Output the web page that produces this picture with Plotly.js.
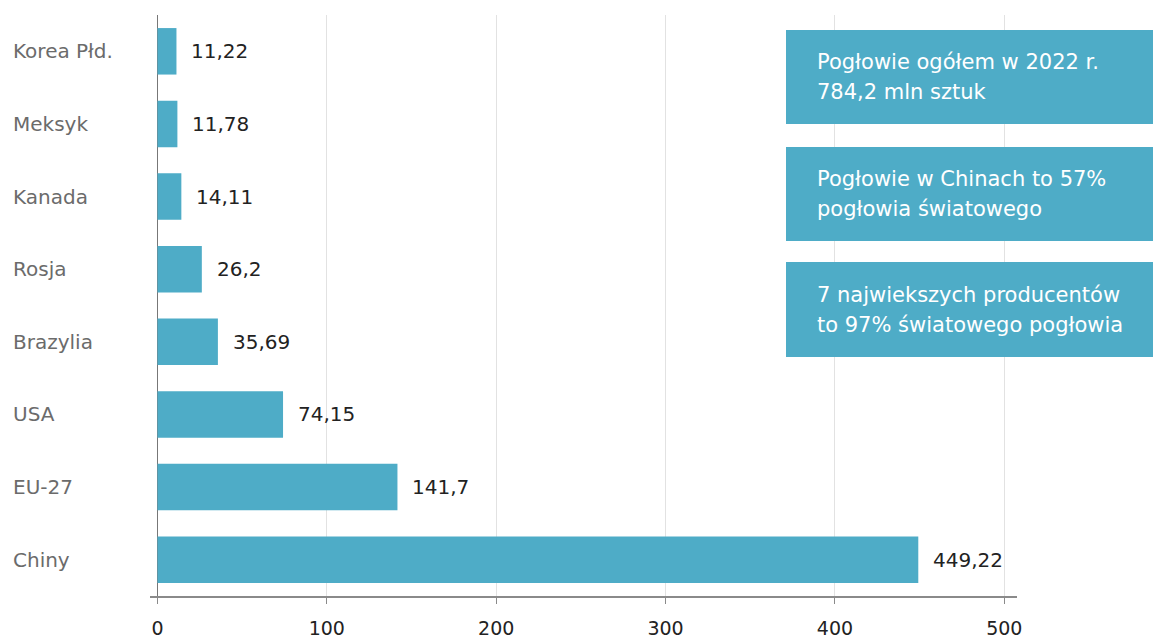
<!DOCTYPE html>
<html>
<head>
<meta charset="utf-8">
<script src="https://cdn.plot.ly/plotly-3.0.1.min.js"></script>
<style>html,body{margin:0;padding:0;background:#fff;}#chart{width:1153px;height:641px;}</style>
</head>
<body>
<div id="chart"></div>
<script>
const categories = ["Chiny", "EU-27", "USA", "Brazylia", "Rosja", "Kanada", "Meksyk", "Korea Płd."];
const values = [449.22, 141.7, 74.15, 35.69, 26.2, 14.11, 11.78, 11.22];
const xTicks = [0, 100, 200, 300, 400, 500];
const boxLines = [
  ["Pogłowie ogółem w 2022 r.", "784,2 mln sztuk"],
  ["Pogłowie w Chinach to 57%", "pogłowia światowego"],
  ["7 najwiekszych producentów", "to 97% światowego pogłowia"]
];

const FONT = "'DejaVu Sans', 'Open Sans', sans-serif";
const TEAL = "#4EACC7";
const W = 1153, H = 641;
const L = 150, R = 136, T = 15, B = 45;
const pw = W - L - R, ph = H - T - B;
const px = x => (x - L) / pw;
const py = y => (H - B - y) / ph;

const fmt = v => String(v).replace('.', ',');

const annotations = [];
categories.forEach((c, i) => {
  annotations.push({
    xref: 'paper', yref: 'y', x: px(11), y: c, xanchor: 'left', yanchor: 'middle',
    text: c, showarrow: false, font: {family: FONT, size: 20, color: '#6b6b6b'}
  });
  annotations.push({
    xref: 'x', yref: 'y', x: values[i], y: c, xanchor: 'left', yanchor: 'middle', xshift: 13,
    text: fmt(values[i]), showarrow: false, font: {family: FONT, size: 20, color: '#222'}
  });
});

const boxes = [[30, 124], [147, 241], [262, 357]];
const shapes = [];
boxes.forEach((b, i) => {
  shapes.push({type: 'rect', xref: 'paper', yref: 'paper', x0: px(786), x1: px(1153), y0: py(b[1]), y1: py(b[0]),
    fillcolor: TEAL, line: {width: 0}, layer: 'above'});
  const mid = (b[0] + b[1]) / 2;
  boxLines[i].forEach((ln, j) => {
    annotations.push({xref: 'paper', yref: 'paper', x: px(815), y: py(mid + (j - 0.5) * 30), xanchor: 'left', yanchor: 'middle',
      align: 'left', text: ln, showarrow: false, font: {family: FONT, size: 21, color: '#fff'}});
  });
});

Plotly.newPlot('chart', [{
  type: 'bar', orientation: 'h', y: categories, x: values,
  marker: {color: TEAL}, width: 0.64, hoverinfo: 'none'
}], {
  width: W, height: H,
  margin: {l: L, r: R, t: T, b: B},
  paper_bgcolor: '#fff', plot_bgcolor: '#fff',
  showlegend: false,
  xaxis: {
    range: [-4.4, 507.5], tickvals: xTicks, ticktext: xTicks.map(String),
    showgrid: true, gridcolor: '#e2e2e2', gridwidth: 1,
    zeroline: true, zerolinecolor: '#777', zerolinewidth: 1.5,
    showline: true, linecolor: '#8a8a8a', linewidth: 2,
    ticks: 'outside', ticklen: 6, tickcolor: '#8a8a8a', tickwidth: 1,
    ticklabelstandoff: 8,
    tickfont: {family: FONT, size: 19, color: '#222'}, fixedrange: true
  },
  yaxis: {
    categoryorder: 'array', categoryarray: categories,
    showticklabels: false, showgrid: false, zeroline: false, showline: false, fixedrange: true
  },
  shapes: shapes,
  annotations: annotations
}, {displayModeBar: false, staticPlot: true});
</script>
</body>
</html>
